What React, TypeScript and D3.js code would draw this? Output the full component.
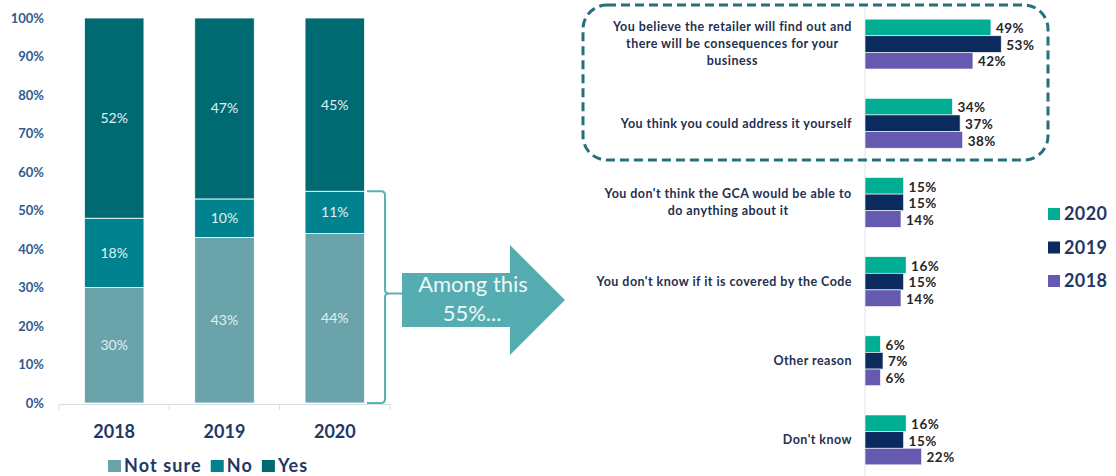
import * as React from "react";
import * as d3 from "d3";

// left chart: awareness by year
const years = ["2018", "2019", "2020"];
const stackKeys = ["Not sure", "No", "Yes"];
const notSure = [30, 43, 44];
const no = [18, 10, 11];
const yes = [52, 47, 45];
const yTicks = [0, 10, 20, 30, 40, 50, 60, 70, 80, 90, 100];

// right chart: reasons
const reasons = [
  "You believe the retailer will find out and\nthere will be consequences for your\nbusiness",
  "You think you could address it yourself",
  "You don't think the GCA would be able to\ndo anything about it",
  "You don't know if it is covered by the Code",
  "Other reason",
  "Don't know",
];
const waves = ["2020", "2019", "2018"];
const r2020 = [49, 34, 15, 16, 6, 16];
const r2019 = [53, 37, 15, 15, 7, 15];
const r2018 = [42, 38, 14, 14, 6, 22];

const FONT = "Lato, 'Open Sans', sans-serif";
const stackColors = ["#6ba3ab", "#00838f", "#006a72"];
const waveColors = ["#00ae93", "#0b2b5e", "#6559b0"];

let ctx: CanvasRenderingContext2D | null = null;
function measure(text: string, font: string, spacing = 0) {
  if (!ctx) ctx = document.createElement("canvas").getContext("2d");
  if (!ctx) return text.length * 6;
  ctx.font = font;
  return ctx.measureText(text).width + text.length * spacing;
}

export default function App() {
  // ---- left stacked chart
  const x = d3.scaleBand().domain(years).range([59, 390]).paddingInner(0.46).paddingOuter(0.23);
  const y = d3.scaleLinear().domain([0, 100]).range([403, 18]);
  const rows = years.map((yr, i) => ({ year: yr, "Not sure": notSure[i], No: no[i], Yes: yes[i] }));
  const stacked = d3.stack<any>().keys(stackKeys)(rows);

  // ---- right grouped bars
  const yr = d3.scaleBand().domain(reasons).range([4.5, 479.5]).paddingInner(0.37).paddingOuter(0.185);
  const inner = d3.scaleBand().domain(waves).range([0, yr.bandwidth()]);
  const xr = d3.scaleLinear().domain([0, 100]).range([865, 1122]);
  const series = [r2020, r2019, r2018];

  const catSize = 12.5;
  const catSpacing = 0.45;
  const catFont = `bold ${catSize}px ${FONT}`;
  const lineH = 17;
  const legSize = 18;
  const legSpacing = 1.1;

  return (
    <svg width={1116} height={476} style={{ position: "absolute", left: 0, top: 0, background: "#fff" }}>
      {/* y ticks */}
      {yTicks.map((t) => (
        <text key={t} x={44} y={y(t)} dy="0.35em" textAnchor="end" fontFamily={FONT} fontWeight="bold"
          fontSize={13} fill="#2f5a92">{t}%</text>
      ))}
      {/* stacked bars */}
      {stacked.map((layer, li) => (
        <g key={layer.key} fill={stackColors[li]}>
          {layer.map((d, i) => (
            <g key={i}>
              <rect x={x(years[i])} y={y(d[1])} width={x.bandwidth()} height={y(d[0]) - y(d[1])}
                stroke="#ffffff" strokeWidth={0.8} />
              <text x={(x(years[i]) as number) + x.bandwidth() / 2} y={(y(d[0]) + y(d[1])) / 2} dy="0.35em"
                textAnchor="middle" fontFamily={FONT} fontSize={14} fill="#e2f0f1">{d[1] - d[0]}%</text>
            </g>
          ))}
        </g>
      ))}
      {/* x axis */}
      <g ref={(g) => {
        if (!g) return;
        const s = d3.select(g);
        s.selectAll("*").remove();
        s.call(d3.axisBottom(x).tickSize(0).tickFormat(() => ""));
        s.select(".domain").attr("stroke", "#d5dfe9");
        const bounds = [59, ...years.map((yy) => (x(yy) as number) + x.bandwidth() / 2 + x.step() / 2)];
        s.selectAll("line.sep").data(bounds).join("line").attr("class", "sep")
          .attr("x1", (d) => d).attr("x2", (d) => d).attr("y1", 0).attr("y2", 6).attr("stroke", "#d5dfe9");
      }} transform={`translate(0,${y(0) + 1})`} />
      {years.map((yy) => (
        <text key={yy} x={(x(yy) as number) + x.bandwidth() / 2} y={438} textAnchor="middle" fontFamily={FONT}
          fontWeight="bold" fontSize={18} fill="#1f3864">{yy}</text>
      ))}
      {/* left legend */}
      {(() => {
        let cx = 108;
        return stackKeys.map((k, i) => {
          const w = measure(k, `bold ${legSize}px ${FONT}`, legSpacing);
          const el = (
            <g key={k}>
              <rect x={cx} y={460} width={13} height={12} fill={stackColors[i]} />
              <text x={cx + 16} y={472} fontFamily={FONT} fontWeight="bold" fontSize={legSize}
                letterSpacing={legSpacing} fill="#1f3864">{k}</text>
            </g>
          );
          cx += 16 + w + 9;
          return el;
        });
      })()}

      {/* bracket */}
      {(() => {
        const top = y(notSure[2] + no[2]);
        const bot = y(0);
        const mid = y(30) + 6;
        const bx = 385;
        return (
          <path d={`M367,${top} H${bx - 4} Q${bx},${top} ${bx},${top + 4} V${mid - 4} Q${bx},${mid} ${bx + 4},${mid} H402
            M${bx + 4},${mid} Q${bx},${mid} ${bx},${mid + 4} V${bot - 4} Q${bx},${bot} ${bx - 4},${bot} H367`}
            fill="none" stroke="#5bb0b3" strokeWidth={2} />
        );
      })()}
      {/* arrow */}
      <path d="M402,273 H510 V245 L565,300 L510,355 V327 H402 Z" fill="#55adb2" />
      <text x={473} y={292} textAnchor="middle" fontFamily={FONT} fontSize={22} fill="#eef8f8">Among this</text>
      <text x={472} y={321} textAnchor="middle" fontFamily={FONT} fontSize={22} fill="#eef8f8">55%...</text>

      {/* right axis line */}
      <line x1={865} x2={865} y1={4} y2={476} stroke="#d8e7f3" strokeWidth={1} />
      {/* grouped bars */}
      {reasons.map((r, ri) => {
        const gy = yr(r) as number;
        const lines = r.split("\n");
        const blockW = Math.max(...lines.map((l) => measure(l, catFont, catSpacing)));
        const cxLabel = 852 - blockW / 2;
        const cy = gy + yr.bandwidth() / 2;
        return (
          <g key={r}>
            {lines.map((l, li) => (
              <text key={li} x={lines.length > 1 ? cxLabel : 852} y={cy + (li - (lines.length - 1) / 2) * lineH}
                dy="0.35em" textAnchor={lines.length > 1 ? "middle" : "end"} fontFamily={FONT}
                fontWeight="bold" fontSize={catSize} letterSpacing={catSpacing} fill="#1f3050">{l}</text>
            ))}
            {waves.map((w, wi) => {
              const v = series[wi][ri];
              const by = gy + (inner(w) as number);
              return (
                <g key={w}>
                  <rect x={xr(0)} y={by} width={xr(v) - xr(0)} height={inner.bandwidth()} fill={waveColors[wi]}
                    stroke="#ffffff" strokeWidth={0.6} />
                  <text x={xr(v) + 5} y={by + inner.bandwidth() / 2 + 1} dy="0.35em" fontFamily={FONT}
                    fontWeight="bold" fontSize={13.5} letterSpacing={0.5} fill="#262626">{v}%</text>
                </g>
              );
            })}
          </g>
        );
      })}
      {/* highlight box */}
      <rect x={583} y={5} width={465} height={155} rx={24} fill="none" stroke="#25707a" strokeWidth={3}
        strokeDasharray="9 5" />
      {/* right legend */}
      {waves.map((w, wi) => (
        <g key={w} transform={`translate(1048,${214 + wi * 33.5})`}>
          <rect x={0} y={-6} width={12} height={12} fill={waveColors[wi]} />
          <text x={16} y={0} dy="0.35em" fontFamily={FONT} fontWeight="bold" fontSize={18} letterSpacing={0.4}
            fill="#1f3864">{w}</text>
        </g>
      ))}
    </svg>
  );
}
